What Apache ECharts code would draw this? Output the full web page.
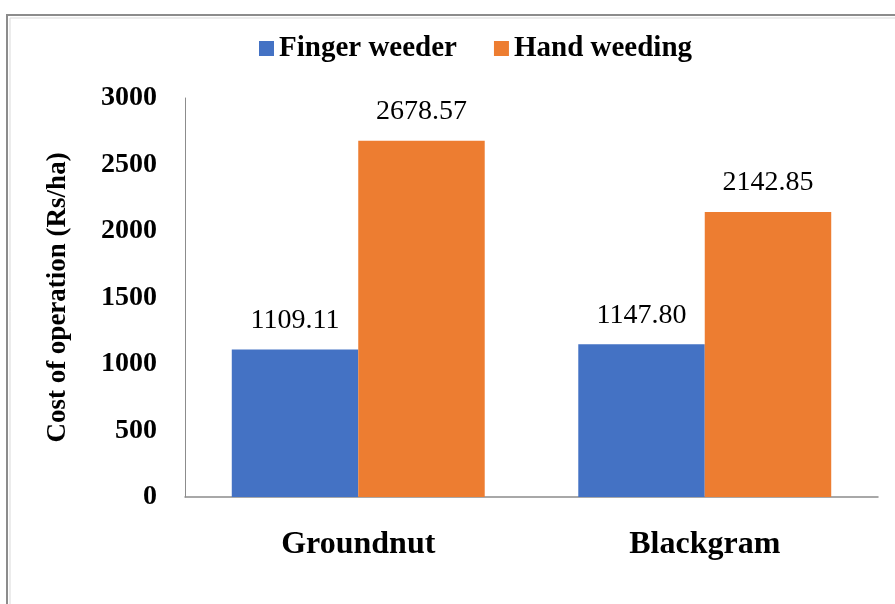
<!DOCTYPE html>
<html>
<head>
<meta charset="utf-8">
<script src="https://cdn.jsdelivr.net/npm/echarts@6/dist/echarts.min.js"></script>
<style>
html,body{margin:0;padding:0;background:#fff;}
#chart{width:895px;height:604px;}
</style>
</head>
<body>
<div id="chart"></div>
<script>
// data
var crops = ['Groundnut', 'Blackgram'];
var fingerWeeder = [1109.11, 1147.80];
var handWeeding = [2678.57, 2142.85];
var yTicks = [0, 500, 1000, 1500, 2000, 2500, 3000];

var serif = '"Liberation Serif", "Times New Roman", serif';
var myChart = echarts.init(document.getElementById('chart'));

var option = {
    backgroundColor: '#fff',
    animation: false,
    graphic: [
        // outer frame of the chart
        { type: 'rect', shape: { x: 7, y: 15, width: 900, height: 600 },
          style: { fill: null, stroke: '#8c8c8c', lineWidth: 2 } },
        { type: 'rect', shape: { x: 10, y: 18, width: 900, height: 600 },
          style: { fill: null, stroke: '#d9d9d9', lineWidth: 1 } }
    ],
    legend: {
        top: 29,
        left: 254,
        itemWidth: 15,
        itemHeight: 15,
        itemGap: 37,
        icon: 'rect',
        textStyle: { fontFamily: serif, fontWeight: 'bold', fontSize: 29, color: '#000' },
        data: ['Finger weeder', 'Hand weeding']
    },
    grid: { left: 185, right: 17, top: 98, bottom: 107 },
    xAxis: {
        type: 'category',
        data: crops,
        axisLine: { lineStyle: { color: '#8c8c8c', width: 1.5 } },
        axisTick: { show: false },
        axisLabel: { margin: 32, fontFamily: serif, fontWeight: 'bold', fontSize: 32, color: '#000' }
    },
    yAxis: {
        type: 'value',
        min: 0,
        max: 3000,
        interval: 500,
        name: 'Cost of operation (Rs/ha)',
        nameLocation: 'middle',
        nameGap: 113,
        nameTextStyle: { fontFamily: serif, fontWeight: 'bold', fontSize: 27, color: '#000' },
        axisLine: { show: true, lineStyle: { color: '#8c8c8c', width: 1 } },
        axisTick: { show: false },
        splitLine: { show: false },
        axisLabel: {
            margin: 28,
            fontFamily: serif, fontWeight: 'bold', fontSize: 28, color: '#000',
            formatter: function (v) { return yTicks.indexOf(v) >= 0 ? String(v) : ''; }
        }
    },
    series: [
        {
            name: 'Finger weeder',
            type: 'bar',
            data: fingerWeeder,
            barGap: '0%',
            barCategoryGap: '27%',
            itemStyle: { color: '#4472C4' },
            label: {
                show: true, position: 'top', distance: 15,
                fontFamily: serif, fontSize: 28, color: '#000',
                formatter: function (p) { return p.value.toFixed(2); }
            }
        },
        {
            name: 'Hand weeding',
            type: 'bar',
            data: handWeeding,
            itemStyle: { color: '#ED7D31' },
            label: {
                show: true, position: 'top', distance: 15,
                fontFamily: serif, fontSize: 28, color: '#000',
                formatter: function (p) { return p.value.toFixed(2); }
            }
        }
    ]
};

myChart.setOption(option);
</script>
</body>
</html>
